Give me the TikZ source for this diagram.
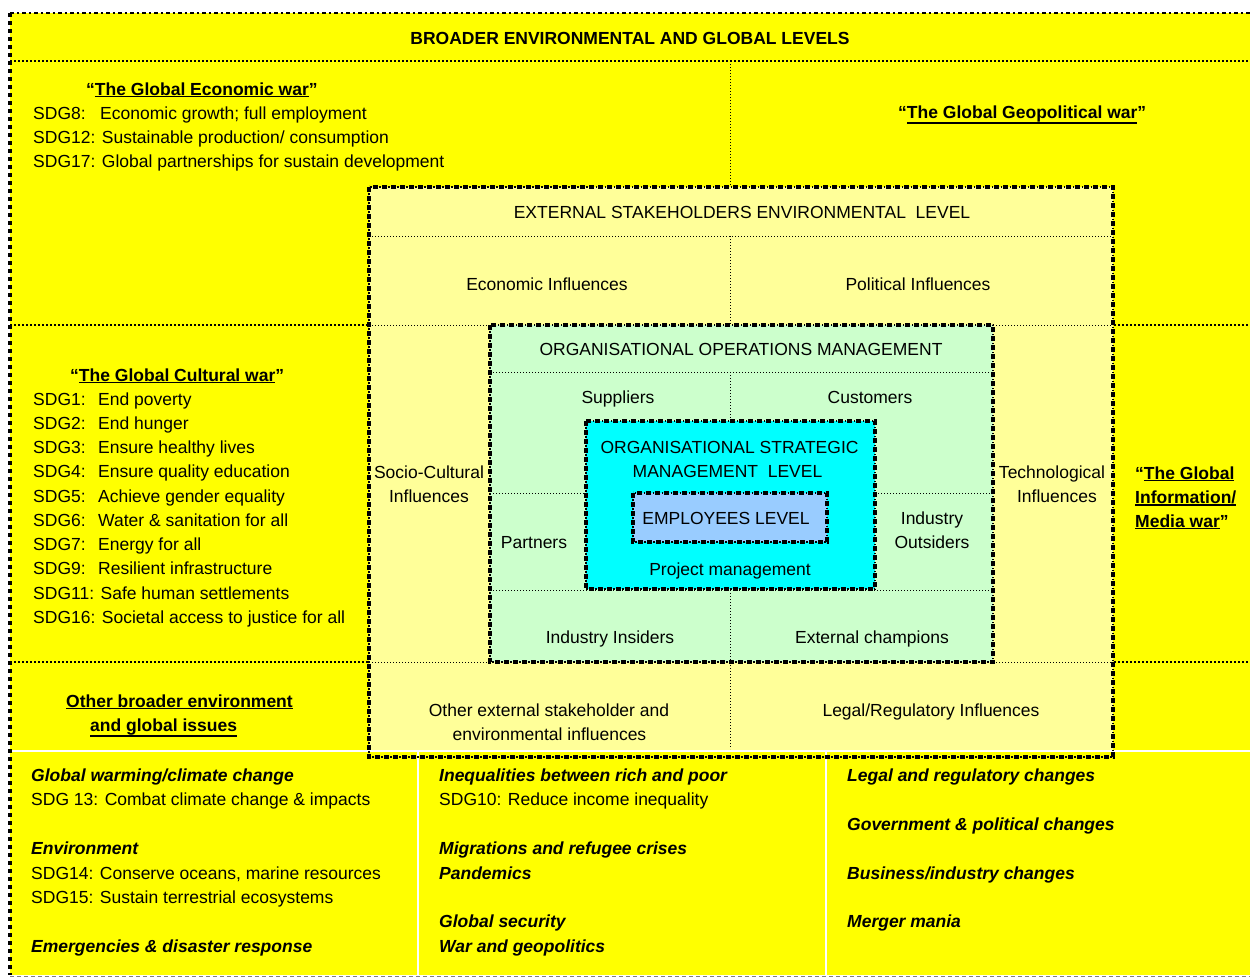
\documentclass[tikz,border=0pt]{standalone}
\usepackage{fontspec}
\setmainfont{Liberation Sans}
% underline that sits just under the descenders of its text
\newcommand\uln[1]{\setbox0=\hbox{#1}\leavevmode\rlap{\rule[\dimexpr-\dp0-2.2pt\relax]{\wd0}{1.8pt}}\box0}
\definecolor{brightyellow}{HTML}{FFFF00}
\definecolor{paleyellow}{HTML}{FFFF99}
\definecolor{mintgreen}{HTML}{CCFFCC}
\definecolor{cyanfill}{HTML}{00FFFF}
\definecolor{skyblue}{HTML}{99CCFF}
\begin{document}
\begin{tikzpicture}[x=1pt,y=-1pt,
  every node/.style={inner sep=0pt, font=\fontsize{17.5}{24.3}\selectfont},
  ctr/.style={anchor=base},
  lft/.style={anchor=base west},
  hd/.style={font=\fontsize{17.5}{24.3}\selectfont\bfseries},
  bi/.style={anchor=base west, font=\fontsize{17.5}{24.3}\selectfont\bfseries\itshape},
  innerdiv/.style={line width=0.9pt, dash pattern=on 1.4pt off 1.6pt},
  outerdiv/.style={line width=1.4pt, dash pattern=on 2pt off 2pt},
  frameunder/.style={line width=1.2pt, dash pattern=on 1.5pt off 1.5pt},
  frameover/.style={line width=4.4pt, dash pattern=on 5pt off 4pt},
  cellgap/.style={white, line width=2pt}
]
\useasboundingbox (0,0) rectangle (1250,978);

% broader environment background and the cell gaps of the bottom row
\fill[brightyellow] (10,13) rectangle (1250,975);
\draw[cellgap] (10,750.5) -- (1250,750.5);
\draw[cellgap] (418,750) -- (418,975);
\draw[cellgap] (826,750) -- (826,975);

% outer dividers
\draw[outerdiv] (10,61) -- (1250,61);
\draw[innerdiv] (730,61) -- (730,187);
\draw[outerdiv] (10,325) -- (1250,325);
\draw[outerdiv] (10,662) -- (1250,662);

% external stakeholders level
\fill[paleyellow] (369,187) rectangle (1113,749.5);
\draw[innerdiv] (369,236) -- (1113,236);
\draw[innerdiv] (730,236) -- (730,325);
\draw[innerdiv] (369,325) -- (1113,325);
\draw[innerdiv] (369,662) -- (1113,662);
\draw[innerdiv] (730,662) -- (730,749);

% operations management level
\fill[mintgreen] (490,325) rectangle (993,662);
\draw[innerdiv] (490,372) -- (993,372);
\draw[innerdiv] (730,372) -- (730,421);
\draw[innerdiv] (490,493) -- (586,493);
\draw[innerdiv] (875,493) -- (993,493);
\draw[innerdiv] (490,590) -- (993,590);
\draw[innerdiv] (730,590) -- (730,662);

% strategic and employees levels
\fill[cyanfill] (586,421) rectangle (875,589);
\fill[skyblue] (633,493) rectangle (827,542);

% level frames
\foreach \ax/\ay/\bx/\by in {369/187/1113/757, 490/325/993/662, 586/421/875/589, 633/493/827/542} {
  \draw[frameunder] (\ax,\ay) rectangle (\bx,\by);
  \draw[frameover] (\ax,\ay) rectangle (\bx,\by);
}

% outer border
\draw[line width=4.5pt, dash pattern=on 4pt off 4pt] (10,13) -- (10,975);
\draw[line width=2.8pt, dash pattern=on 3.5pt off 3pt on 2pt off 3.5pt] (10,13) -- (1250,13);
\draw[gray, line width=1pt, dash pattern=on 4pt off 3pt] (10,976.5) -- (1250,976.5);

% title band
\node[ctr, hd] (title) at (630,44) {BROADER ENVIRONMENTAL AND GLOBAL LEVELS};

% economic war
\node[lft, hd] (econwar) at (86,95) {“\uln{The Global Economic war}”};
\node[lft] (sdg8l) at (33,119) {SDG8:};
\node[lft] (sdg8t) at (100,119) {Economic growth; full employment};
\node[lft] (sdg12) at (33,143) {SDG12: Sustainable production/ consumption};
\node[lft] (sdg17) at (33,167) {SDG17: Global partnerships for sustain development};

% geopolitical war
\node[lft, hd] (geowar) at (898,118) {“\uln{The Global Geopolitical war}”};

% cultural war
\node[lft, hd] (culwar) at (70,381) {“\uln{The Global Cultural war}”};
\foreach \sdgnum/\sdgtext [count=\k from 0] in {SDG1:/End poverty, SDG2:/End hunger,
    SDG3:/Ensure healthy lives, SDG4:/Ensure quality education,
    SDG5:/Achieve gender equality, SDG6:/Water \& sanitation for all,
    SDG7:/Energy for all, SDG9:/Resilient infrastructure} {
  \node[lft] (cul-l\k) at (33,405+24.25*\k) {\sdgnum};
  \node[lft] (cul-t\k) at (98,405+24.25*\k) {\sdgtext};
}
\node[lft] (sdg11) at (33,599) {SDG11: Safe human settlements};
\node[lft] (sdg16) at (33,623.25) {SDG16: Societal access to justice for all};

% information war
\node[lft, hd] (infowar1) at (1135,479) {“\uln{The Global}};
\node[lft, hd] (infowar2) at (1135,503) {\uln{Information/}};
\node[lft, hd] (infowar3) at (1135,527) {\uln{Media war}”};

% other broader issues
\node[lft, hd] (other1h) at (66,707) {\uln{Other broader environment}};
\node[lft, hd] (other2h) at (90,731) {\uln{and global issues}};

% external stakeholders texts
\node[ctr] (exttitle) at (742,218) {EXTERNAL STAKEHOLDERS ENVIRONMENTAL\ \ LEVEL};
\node[ctr] (econ) at (547,290) {Economic Influences};
\node[ctr] (pol) at (918,290) {Political Influences};
\node[ctr] (socio1) at (429,478.5) {Socio-Cultural};
\node[ctr] (socio2) at (429,502.5) {Influences};
\node[ctr] (tech1) at (1052,478.5) {Technological};
\node[ctr] (tech2) at (1057,502.5) {Influences};
\node[ctr] (otherext1) at (549,716) {Other external stakeholder and};
\node[ctr] (otherext2) at (549.5,740) {environmental influences};
\node[ctr] (legal) at (931,716) {Legal/Regulatory Influences};

% operations management texts
\node[ctr] (opstitle) at (741,355) {ORGANISATIONAL OPERATIONS MANAGEMENT};
\node[ctr] (suppliers) at (618,403) {Suppliers};
\node[ctr] (customers) at (870,403) {Customers};
\node[ctr] (partners) at (534,548) {Partners};
\node[ctr] (outsiders1) at (932,524) {Industry};
\node[ctr] (outsiders2) at (932,548) {Outsiders};
\node[ctr] (insiders) at (610,643) {Industry Insiders};
\node[ctr] (champions) at (872,643) {External champions};

% strategic and employees texts
\node[ctr] (strat1) at (729.5,453) {ORGANISATIONAL STRATEGIC};
\node[ctr] (strat2) at (727.5,477) {MANAGEMENT\ \ LEVEL};
\node[ctr] (employees) at (726,524) {EMPLOYEES LEVEL};
\node[ctr] (project) at (730,575) {Project management};

% bottom row, first column
\node[bi] (warming) at (31,781) {Global warming/climate change};
\node[lft] (sdg13) at (31,805.5) {SDG 13: Combat climate change \& impacts};
\node[bi] (environment) at (31,854.5) {Environment};
\node[lft] (sdg14) at (31,879) {SDG14: Conserve oceans, marine resources};
\node[lft] (sdg15) at (31,903) {SDG15: Sustain terrestrial ecosystems};
\node[bi] (emergencies) at (31,952) {Emergencies \& disaster response};

% bottom row, second column
\node[bi] (inequal) at (439,781) {Inequalities between rich and poor};
\node[lft] (sdg10) at (439,805.5) {SDG10: Reduce income inequality};
\node[bi] (migration) at (439,854.5) {Migrations and refugee crises};
\node[bi] (pandemics) at (439,879) {Pandemics};
\node[bi] (security) at (439,927.5) {Global security};
\node[bi] (geopol) at (439,952) {War and geopolitics};

% bottom row, third column
\node[bi] (legalchg) at (847,781) {Legal and regulatory changes};
\node[bi] (govchg) at (847,830) {Government \& political changes};
\node[bi] (bizchg) at (847,879) {Business/industry changes};
\node[bi] (merger) at (847,927.5) {Merger mania};
\end{tikzpicture}
\end{document}
